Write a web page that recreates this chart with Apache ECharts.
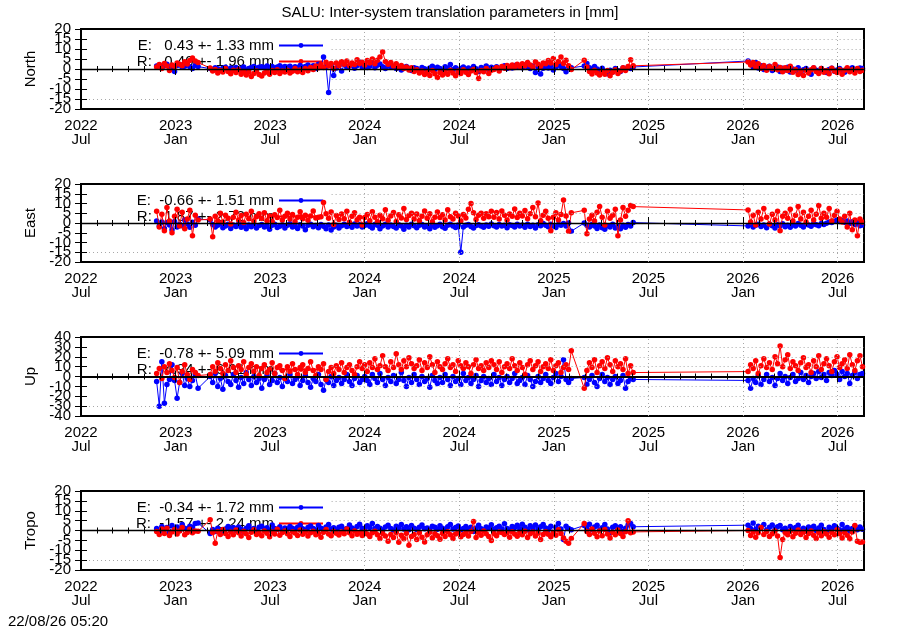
<!DOCTYPE html>
<html><head><meta charset="utf-8">
<script src="https://cdn.jsdelivr.net/npm/echarts@6/dist/echarts.min.js"></script>
<style>html,body{margin:0;padding:0;background:#fff}#c{width:900px;height:630px}</style>
</head><body><div id="c"></div>
<script>
// ---------- DATA ----------
const chartTitle = 'SALU: Inter-system translation parameters in [mm]';
const timestampText = '22/08/26 05:20';
const panelNames = ['North', 'East', 'Up', 'Tropo'];
const yLimits = [20, 20, 40, 20];
const yIntervals = [5, 5, 10, 5];
const statLabelsE = ['E:   0.43 +- 1.33 mm', 'E:  -0.66 +- 1.51 mm', 'E:  -0.78 +- 5.09 mm', 'E:  -0.34 +- 1.72 mm'];
const statLabelsR = ['R:   0.40 +- 1.96 mm', 'R:   1.87 +- 2.72 mm', 'R:   4.94 +- 6.01 mm', 'R:  -1.57 +- 2.24 mm'];
const xTickMonths = [0, 6, 12, 18, 24, 30, 36, 42, 48];
const xTickLabels = ['2022\nJul', '2023\nJan', '2023\nJul', '2024\nJan', '2024\nJul', '2025\nJan', '2025\nJul', '2026\nJan', '2026\nJul'];
// epochs: day offsets from 2022-07-01, sampled every 5 days inside each observed span
const sampleRanges = [[147, 227], [249, 949], [972, 1067], [1290, 1510]];
const sampleStepDays = 5;
const axisEndDay = 1513; // 2026-08-22

const northE = [1.5,2.0,0.8,1.6,2.4,1.0,0.5,-1.2,1.8,2.2,0.9,1.4,2.6,1.1,0.3,1.9,1.2,
0.2,-0.5,0.6,0.1,-0.8,0.4,0.9,-0.3,0.5,0.0,
0.7,-0.4,0.3,1.0,-0.6,0.2,0.8,1.2,0.4,0.9,
1.1,0.6,1.5,0.8,1.3,0.5,1.0,1.6,0.7,1.2,
0.9,1.4,0.3,1.1,0.6,1.8,0.8,1.3,2.0,0.5,
1.6,0.2,2.4,1.0,6.0,1.2,-11.8,2.0,-3.3,0.5,
1.8,-1.0,2.2,0.9,1.5,2.6,0.4,1.7,3.5,1.0,
2.0,0.8,1.4,3.0,0.6,1.9,2.5,1.1,0.3,1.6,
0.9,1.3,0.2,1.0,-0.5,0.7,1.2,0.4,-0.8,0.6,
0.3,-1.0,0.8,0.1,-0.6,0.5,1.4,-0.2,0.9,0.3,
-0.7,1.1,0.4,2.2,-0.4,0.6,-1.5,0.2,1.0,-0.8,
0.5,-0.3,1.3,0.1,-1.2,0.8,0.2,1.5,-0.5,0.9,
0.4,1.1,-0.2,0.7,1.6,0.3,1.0,0.5,1.8,0.9,
1.3,0.6,2.0,1.0,0.2,1.5,-1.8,0.8,-2.5,0.4,
1.0,0.5,1.7,-0.5,0.9,2.3,1.2,0.3,-1.4,1.1,0.6,
1.5,2.8,0.6,-0.5,1.2,0.0,-1.0,0.4,-1.8,-2.4,-0.6,-1.5,0.2,-0.8,-1.2,0.5,-0.3,0.8,0.2,1.0,
4.0,2.5,1.0,3.2,0.5,1.6,-0.3,0.8,1.4,-0.8,0.2,1.0,-1.2,0.4,-0.5,0.9,-1.5,0.0,-0.8,0.6,
-2.0,-0.4,0.3,-1.0,-2.6,0.5,-0.6,-1.4,0.2,-0.9,-1.8,-0.3,0.4,-1.1,-0.5,0.3,-0.8,-1.6,0.1,-0.4,
0.6,-0.9,-0.2,0.5,0.3];
const northR = [1.0,2.2,0.2,2.8,1.5,-0.8,2.0,1.2,3.0,2.4,1.6,3.6,2.5,4.2,5.5,4.0,3.2,
0.5,-1.0,-0.2,-2.0,-0.8,-1.5,0.3,-1.2,-2.4,-0.6,
-1.8,-0.4,-2.6,-1.2,-3.0,-1.5,-3.8,-2.2,-1.0,-2.8,
-3.5,-2.0,-1.2,-2.6,-0.8,-1.8,-0.4,-2.2,-1.0,-1.5,
-0.6,-2.0,-1.1,0.2,-1.4,-0.5,-1.8,0.3,-0.9,0.8,
-0.2,1.5,0.6,2.2,0.8,3.4,1.5,2.8,0.2,3.0,
1.6,3.6,2.4,4.0,1.8,3.0,2.2,4.6,2.8,3.4,
2.0,4.2,3.0,5.0,2.6,4.4,6.0,8.5,3.8,2.4,
3.2,1.5,2.6,0.8,1.8,0.2,1.0,-0.5,0.6,-1.2,
-0.4,-2.0,-1.0,-2.8,-1.6,-3.2,-0.8,-2.4,-4.2,-1.8,
-3.0,-1.2,-2.6,-0.6,-2.0,-3.4,-1.0,-2.2,-0.4,-1.6,
-2.8,-1.0,-0.2,-1.8,-4.8,-0.8,-1.4,0.2,-2.2,-0.6,
-0.2,0.8,-1.0,1.2,0.4,1.8,0.6,2.0,0.8,2.4,
1.2,2.6,1.6,3.2,2.0,1.0,3.6,2.4,1.4,3.0,
2.6,4.2,3.0,5.2,2.2,3.8,6.0,2.8,4.4,1.6,-0.3,
4.4,1.0,-1.2,-2.5,-0.6,-2.0,-3.0,-1.4,-2.6,-0.8,-3.4,-1.6,-0.4,-2.2,-1.0,0.6,-0.8,1.2,4.6,1.6,
3.5,2.0,3.2,1.0,2.6,0.4,1.8,-0.6,1.2,0.2,2.2,-0.4,0.8,-1.4,0.6,-0.8,1.4,-1.6,-0.2,-2.8,
-1.0,-3.2,-0.6,-2.0,-0.4,0.6,-1.2,-2.2,0.2,-1.6,-0.8,-2.4,0.4,-1.0,-1.8,-0.2,-2.6,-0.6,0.6,-1.4,
-0.4,-2.0,0.2,-1.2,-0.6];
const eastE = [1.0,-1.5,0.5,-2.8,0.2,-1.0,-3.5,0.8,-2.0,-0.6,-1.4,1.5,-0.5,-2.2,0.4,-1.2,2.0,
1.5,-0.8,-2.0,-1.2,-0.4,-2.4,-1.6,-0.6,-2.8,-1.0,
-1.8,-0.5,-2.2,-1.4,-3.0,-1.0,-1.9,-0.7,-2.5,-1.3,
-0.8,-2.0,-1.5,-3.2,-1.1,-0.6,-2.3,-1.7,-0.9,-2.6,
-1.2,-0.4,-2.0,-1.5,-2.8,-0.9,-1.6,-3.4,-1.1,-0.7,
-1.9,-1.3,-2.4,-0.8,-1.7,-2.9,-1.0,-3.6,-2.0,-1.2,
-2.6,-1.4,-0.6,-1.8,-1.1,-2.2,-0.5,-1.5,-0.9,-2.0,
-1.3,-0.4,-1.7,-2.5,-0.8,-1.2,-3.0,-1.6,-0.7,-2.1,
-1.0,-1.8,-2.6,-0.9,-1.5,-3.2,-1.1,-2.0,-0.6,-1.4,
-2.4,-1.2,-0.8,-2.0,-1.6,-3.0,-1.0,-2.2,-1.4,-0.6,
-1.9,-2.7,-1.1,-0.7,-1.5,-2.3,-1.0,-15.0,-2.0,-1.2,
-0.8,-1.8,-2.5,-1.3,-0.9,-1.6,-2.2,-1.0,-1.7,-0.5,
-1.4,-2.1,-0.8,-1.6,-1.1,-2.4,-0.9,-1.3,-2.0,-0.7,
-1.5,-1.0,-2.2,-0.6,-1.8,-1.2,-2.6,-0.9,-1.4,-0.3,
-1.1,-1.9,-0.7,-1.5,-2.3,-0.8,-1.2,-0.2,-1.6,0.0,-4.2,
0.0,-1.2,-2.0,-0.8,-1.6,-2.8,-1.0,-2.4,-3.2,-1.4,-2.0,-0.6,-2.6,-1.8,-3.0,-1.2,-2.2,-0.8,-1.6,0.2,
-1.5,-0.8,-2.0,-1.2,-0.6,-1.8,-1.0,-2.4,-0.5,-1.4,-2.6,-0.9,-1.6,-0.4,-1.9,-1.1,-2.2,-0.7,-1.5,-0.3,
-1.2,-2.0,-0.6,-1.0,-1.7,-0.4,-0.9,-1.4,-0.2,-0.8,-0.1,0.5,0.2,0.9,1.5,0.8,1.2,0.4,1.0,-0.3,
0.6,-0.8,0.2,-1.4,-1.0];
const eastR = [6.0,-2.0,4.5,-4.0,8.0,1.0,-5.0,3.5,7.0,-1.5,5.5,-3.0,2.0,6.5,-6.5,4.0,1.5,
2.0,-7.0,3.5,1.0,5.0,0.5,4.0,2.5,-0.5,3.0,
5.5,1.5,3.8,0.2,4.5,2.2,6.0,1.0,3.2,4.8,
2.4,5.2,1.2,3.6,0.8,4.2,2.8,6.5,1.6,3.4,
5.0,2.0,4.4,0.6,3.0,5.8,2.2,4.0,1.4,3.6,
6.2,2.6,3.0,3.2,10.5,4.8,2.4,5.6,-0.8,3.8,
1.8,4.6,2.2,6.0,0.4,3.4,5.2,1.6,3.0,-1.0,
2.8,4.4,1.2,5.8,3.0,0.6,4.0,2.2,6.8,1.4,
3.6,5.4,0.8,4.2,2.6,7.5,1.8,3.8,5.0,2.0,
4.6,1.2,3.4,6.2,2.4,4.8,0.6,3.0,5.6,2.8,
4.2,1.6,6.8,3.2,2.0,5.0,3.6,1.0,4.4,2.6,
7.0,10.0,5.2,1.8,4.0,5.0,2.4,4.8,3.2,6.0,
3.0,5.4,2.0,6.2,4.0,1.6,4.6,3.4,7.2,2.8,
5.0,3.6,6.4,2.2,4.8,8.0,3.2,10.2,1.2,4.0,
6.0,2.4,-4.0,3.0,5.2,1.5,4.4,11.8,3.6,-4.2,5.2,
6.5,-5.5,2.0,4.0,1.0,5.5,8.5,3.0,-1.0,6.0,2.5,4.0,7.0,-6.5,1.5,8.0,3.5,6.5,9.0,8.4,
6.7,0.5,4.0,-1.0,5.5,2.0,7.5,3.0,-0.5,4.5,1.5,6.0,-4.0,3.5,5.0,2.5,7.0,1.0,4.0,8.5,
2.0,5.5,0.5,3.5,6.5,1.5,4.5,9.0,2.5,5.0,3.0,7.5,1.0,4.0,6.0,2.0,0.5,3.5,-2.0,5.0,
-3.5,1.5,-6.5,2.0,0.5];
const upE = [-5,-30,15,-27,-8,-3,12,-4,-22,-6,3,-9,-2,-10,-4,2,-12,
0,-6,3,-10,-2,-13,1,-5,-8,2,
-4,-11,-1,-7,4,-3,-9,0,-6,-2,
-12,-3,1,-8,-4,3,-6,-1,-10,-2,
-5,2,-7,-3,0,-9,-4,1,-6,-11,
-2,-5,2,-8,-14,-3,-6,0,-9,-4,
-1,-7,-3,2,-5,-9,-2,1,-6,-3,
0,-4,-8,2,-2,-6,3,-3,-9,-1,
-5,1,-7,-3,4,-4,-10,-1,-6,2,
-3,-8,0,-5,-2,-11,1,-4,-7,-1,
-6,2,-3,-9,0,-5,-2,-8,3,-4,
-1,-7,-3,1,-10,-4,0,-6,-2,-8,
2,-5,-1,-9,-3,0,-6,-2,3,-7,
-4,-1,-8,1,-3,-10,-5,0,-6,-2,
2,-4,-7,-1,3,-5,0,17,-3,-6,-2,
-1,-8,-3,1,-6,-10,-2,2,-5,-1,-8,-3,0,-7,-4,1,-12,-5,-2,-3,
-4,-12,-2,-6,1,-8,-3,2,-5,-1,-9,-2,3,-4,0,-7,-1,2,-5,-2,
4,-3,1,-6,0,3,-2,5,-1,2,-4,4,1,6,2,-3,5,0,3,-7,
1,4,-2,2,3];
const upR = [3,8,-2,10,4,13,6,-1,9,-6,5,12,2,-3,7,4,1,
2,10,5,14,8,3,12,6,16,9,
4,11,7,15,2,9,13,5,10,1,
8,12,4,7,14,3,9,11,6,-2,
10,5,13,7,2,9,12,4,8,15,
6,1,10,7,13,-3,5,9,3,11,
7,14,4,9,12,6,2,10,15,8,
12,5,14,9,18,7,11,21,10,6,
15,9,23,12,7,16,10,19,13,8,
11,17,6,14,9,20,12,4,15,10,
7,13,18,9,12,5,16,11,8,14,
10,3,12,17,8,11,6,14,9,16,
12,7,15,4,10,13,8,18,11,6,
14,9,2,12,16,7,11,15,5,10,
13,8,17,6,11,14,4,9,12,7,26,
-12,6,14,9,17,4,11,15,8,19,12,5,16,10,13,7,18,3,11,4,
5,12,8,16,3,11,18,9,14,7,20,13,31,10,17,22,8,15,11,6,
14,19,9,12,4,16,10,21,7,13,18,11,5,15,20,9,13,17,8,22,
12,6,16,21,10];
const tropoE = [1.0,-0.5,2.0,0.4,1.5,-1.0,2.5,0.8,1.8,0.0,3.0,1.2,0.5,2.2,1.6,3.5,3.8,
-1.5,0.5,-0.5,1.2,0.2,-1.0,0.8,2.0,0.4,1.5,
0.0,1.8,0.6,-0.8,1.2,2.4,0.3,1.0,-0.4,1.6,
2.2,0.8,1.4,0.2,2.8,1.0,0.5,1.9,-0.2,1.3,
0.7,2.0,1.1,0.4,1.7,2.6,0.9,0.1,1.5,2.3,
1.0,0.3,2.5,1.2,0.6,1.8,3.0,0.8,1.4,0.2,
1.6,2.2,0.5,1.0,2.8,1.3,0.4,2.0,3.2,1.1,
0.6,2.4,1.5,3.5,0.9,2.0,1.2,0.3,1.8,2.6,
1.0,0.2,2.2,1.4,3.0,0.7,1.9,0.4,2.5,1.1,
0.5,1.7,2.8,0.9,1.3,0.1,2.1,1.6,0.6,2.4,
1.2,0.3,1.9,3.1,0.8,1.5,2.3,0.4,1.0,2.0,
0.7,1.6,-0.5,1.1,2.6,0.9,0.2,1.8,1.3,2.9,
0.6,1.4,2.2,0.8,3.4,1.0,0.3,2.0,1.5,2.7,
0.9,3.2,1.6,0.4,2.4,1.1,2.8,0.7,1.9,3.0,
1.3,0.5,2.1,-1.5,1.6,3.6,0.8,-4.5,2.2,1.0,0.4,
2.5,1.0,3.2,0.4,1.8,2.6,0.2,1.4,3.0,0.8,-1.2,1.6,2.4,0.6,1.9,-0.5,1.2,2.8,3.6,1.9,
2.7,1.0,3.8,0.5,2.2,1.4,3.0,0.2,1.6,2.8,0.8,1.9,2.5,0.4,1.2,-0.6,2.0,0.9,1.5,2.6,
0.3,1.1,-0.4,1.8,0.6,2.2,0.0,1.3,2.7,0.5,-0.8,1.6,0.9,2.4,1.2,0.2,3.0,0.7,1.5,-0.3,
1.0,2.1,0.4,1.8,0.6];
const tropoR = [-0.5,-2.0,0.8,-1.5,1.2,-2.5,-0.8,0.5,-1.8,-0.2,1.5,-2.2,-1.0,0.6,-1.2,-0.3,-0.4,
5.5,-1.0,-6.5,-0.5,-2.0,0.5,-1.5,-3.0,-0.8,-2.2,
0.2,-1.2,-2.8,-0.4,-1.6,-3.5,-0.9,0.4,-2.0,-1.1,
-2.6,-0.3,-1.4,-3.2,-0.7,-1.8,0.6,-2.4,-1.0,-0.2,
-1.7,-3.0,-0.6,-1.3,-2.5,0.3,-1.9,-0.8,-2.8,-1.2,
-0.4,-2.1,-1.5,-3.4,-0.9,0.5,-1.8,-2.6,-0.5,-1.4,
-2.3,-0.7,-1.6,0.8,-1.1,-2.7,-0.3,-1.9,-1.0,-2.5,
-0.6,-1.8,-3.0,-1.2,-0.4,-2.2,-4.0,-1.5,-2.8,-5.5,
-2.0,-3.6,-1.0,-6.0,-2.4,-4.2,-1.4,-7.5,-3.0,-2.0,
-4.6,-1.2,-3.4,-5.8,-2.2,-0.8,-3.8,-1.6,-2.6,-4.4,
-1.4,-3.0,-0.6,-2.2,-4.0,-1.8,-0.9,-3.2,-2.0,-1.2,
-2.8,-0.5,4.5,-3.6,-1.1,-2.4,-0.3,-1.7,-3.0,-5.0,
-1.5,-2.6,-0.7,-1.0,-2.0,-1.2,-3.4,-0.6,-1.8,-2.9,
-1.0,-2.2,-0.4,-3.6,-1.6,-0.8,-2.8,-1.3,-4.5,-2.0,
-0.6,-1.9,-3.2,-1.0,-2.4,0.4,-1.5,-3.8,-5.5,-6.5,-4.0,
3.5,-0.5,-2.0,0.8,-1.4,-3.2,-0.2,-2.6,0.5,-1.8,-3.8,-0.9,-2.2,0.2,-1.5,-3.0,-0.6,5.0,-1.2,-0.7,
0.0,-2.5,-0.8,-3.4,-1.2,1.5,-2.0,-0.5,-3.0,-1.6,-0.2,-2.8,-13.7,-4.5,-1.0,-2.2,-0.4,-3.2,-1.4,0.2,
-2.0,-0.8,-3.6,-1.5,-0.3,-2.4,-4.0,-1.0,-2.6,-0.6,-1.8,-3.4,-0.9,-2.2,0.4,-1.6,-3.8,-1.0,-2.4,-4.2,
-0.8,2.5,-5.5,-6.0,-5.8];

const seriesE = [northE, eastE, upE, tropoE];
const seriesR = [northR, eastR, upR, tropoR];

// ---------- LAYOUT / STYLE ----------
const FONT = '"Liberation Sans", Arial, sans-serif';
const panelTops = [29, 184, 337, 491];
const panelHeights = [80, 78, 79, 79];
const gridLeft = 81, gridWidth = 783;
const maskEndMonth = 15.9;

function dayToMonth(d) {
  const dt = new Date(Date.UTC(2022, 6, 1) + d * 86400000);
  const y = dt.getUTCFullYear(), m = dt.getUTCMonth(), day = dt.getUTCDate();
  const dim = new Date(Date.UTC(y, m + 1, 0)).getUTCDate();
  return (y - 2022) * 12 + (m - 6) + (day - 1) / dim;
}
const sampleDays = [];
sampleRanges.forEach(([a, b]) => { for (let d = a; d <= b; d += sampleStepDays) sampleDays.push(d); });
const sampleX = sampleDays.map(dayToMonth);
const xMax = dayToMonth(axisEndDay);

function pairs(vals) {
  const n = Math.min(vals.length, sampleX.length);
  const out = [];
  for (let i = 0; i < n; i++) out.push([sampleX[i], vals[i]]);
  return out;
}

const grids = [], xAxes = [], yAxes = [], series = [], legends = [];
panelNames.forEach((nm, p) => {
  const ym = yLimits[p], yi = yIntervals[p];
  grids.push({ left: gridLeft, width: gridWidth, top: panelTops[p], height: panelHeights[p],
    show: true, borderColor: '#000', borderWidth: 2, backgroundColor: 'transparent' });
  const xb = { type: 'value', gridIndex: p, min: 0, max: xMax, interval: 6, z: 6,
    splitLine: { show: false }, axisLine: { show: false },
    axisTick: { show: true, inside: true, length: 6, lineStyle: { color: '#000', width: 1 } },
    minorTick: { show: true, splitNumber: 6, length: 3, lineStyle: { color: '#000', width: 1 } },
    minorSplitLine: { show: false } };
  xAxes.push(Object.assign({}, xb, { position: 'bottom',
    axisLabel: { show: true, margin: 10, fontSize: 15, lineHeight: 14, color: '#000', fontFamily: FONT,
      showMinLabel: true, showMaxLabel: false,
      formatter: v => { const k = xTickMonths.indexOf(Math.round(v)); return k >= 0 ? xTickLabels[k] : ''; } } }));
  xAxes.push(Object.assign({}, xb, { position: 'top', axisLabel: { show: false } }));
  const yb = { type: 'value', gridIndex: p, min: -ym, max: ym, interval: yi, z: 6,
    splitLine: { show: false }, axisLine: { show: false },
    axisTick: { show: true, inside: true, length: 6, lineStyle: { color: '#000', width: 1 } } };
  const lblBase = { show: true, margin: 10, fontSize: 15, color: '#000', fontFamily: FONT, showMinLabel: true, showMaxLabel: true };
  // left axis: even tick labels (20, 10, 0 ...); name
  yAxes.push(Object.assign({}, yb, { position: 'left', name: nm, nameLocation: 'middle', nameGap: 42,
    nameTextStyle: { fontSize: 15, color: '#000', fontFamily: FONT },
    axisLabel: Object.assign({}, lblBase, { formatter: v => (Math.round((v + ym) / yi) % 2 === 0 ? String(v) : '') }) }));
  // right axis: mirrored ticks only
  yAxes.push(Object.assign({}, yb, { position: 'right', axisLabel: { show: false } }));
  // second left axis: odd tick labels (15, 5, -5 ...) so that overlapping labels are all kept
  yAxes.push(Object.assign({}, yb, { position: 'left', offset: 0, axisTick: { show: false },
    axisLabel: Object.assign({}, lblBase, { formatter: v => (Math.round((v + ym) / yi) % 2 === 1 ? String(v) : '') }) }));
  const yIdx = 3 * p;

  // dotted grid lines (hidden behind the key area on the left)
  const gl = [];
  for (let v = -ym + yi; v < ym; v += yi) {
    if (v === 0) continue;
    const x0 = (v === -ym + yi) ? 0 : maskEndMonth;
    gl.push([{ coord: [x0, v] }, { coord: [xMax, v] }]);
  }
  xTickMonths.forEach(m => { if (m > maskEndMonth) gl.push([{ coord: [m, -ym] }, { coord: [m, ym] }]); });
  series.push({ type: 'line', xAxisIndex: 2 * p, yAxisIndex: yIdx, data: [], z: 1, silent: true,
    markLine: { silent: true, symbol: ['none', 'none'], label: { show: false }, animation: false,
      emphasis: { disabled: true },
      lineStyle: { color: '#a8a8a8', type: [1, 3], width: 1 }, data: gl } });
  series.push({ type: 'line', name: statLabelsE[p], xAxisIndex: 2 * p, yAxisIndex: yIdx,
    data: pairs(seriesE[p]), symbol: 'circle', symbolSize: 5.5, showSymbol: true, z: 3, silent: true,
    lineStyle: { width: 1, color: '#0000ff' }, itemStyle: { color: '#0000ff' } });
  series.push({ type: 'line', name: statLabelsR[p], xAxisIndex: 2 * p, yAxisIndex: yIdx,
    data: pairs(seriesR[p]), symbol: 'circle', symbolSize: 5.5, showSymbol: true, z: 4, silent: true,
    lineStyle: { width: 1, color: '#ff0000' }, itemStyle: { color: '#ff0000' } });
  series.push({ type: 'line', xAxisIndex: 2 * p, yAxisIndex: yIdx, data: [], z: 5, silent: true,
    markLine: { silent: true, symbol: ['none', 'none'], label: { show: false }, animation: false,
      emphasis: { disabled: true },
      lineStyle: { color: '#000', type: 'solid', width: p === 2 ? 2 : 1.3 },
      data: [[{ coord: [0, 0] }, { coord: [xMax, 0] }]] } });
  legends.push({ left: 134, top: panelTops[p] + 9, orient: 'vertical', align: 'right', padding: 0,
    itemGap: 1, itemWidth: 44, itemHeight: 6, selectedMode: false, z: 1,
    data: [statLabelsE[p], statLabelsR[p]],
    textStyle: { fontSize: 15, color: '#000', fontFamily: FONT, width: 140, lineHeight: 15 } });
});

const chart = echarts.init(document.getElementById('c'), null, { renderer: 'canvas' });
chart.setOption({
  animation: false,
  backgroundColor: '#fff',
  title: [
    { text: chartTitle, left: 'center', top: 5, padding: 0,
      textStyle: { fontSize: 15, fontWeight: 'normal', color: '#000', fontFamily: FONT } },
    { text: timestampText, left: 8, top: 614, padding: 0,
      textStyle: { fontSize: 15, fontWeight: 'normal', color: '#000', fontFamily: FONT } }
  ],
  legend: legends,
  grid: grids,
  xAxis: xAxes,
  yAxis: yAxes,
  series: series
});
</script></body></html>
